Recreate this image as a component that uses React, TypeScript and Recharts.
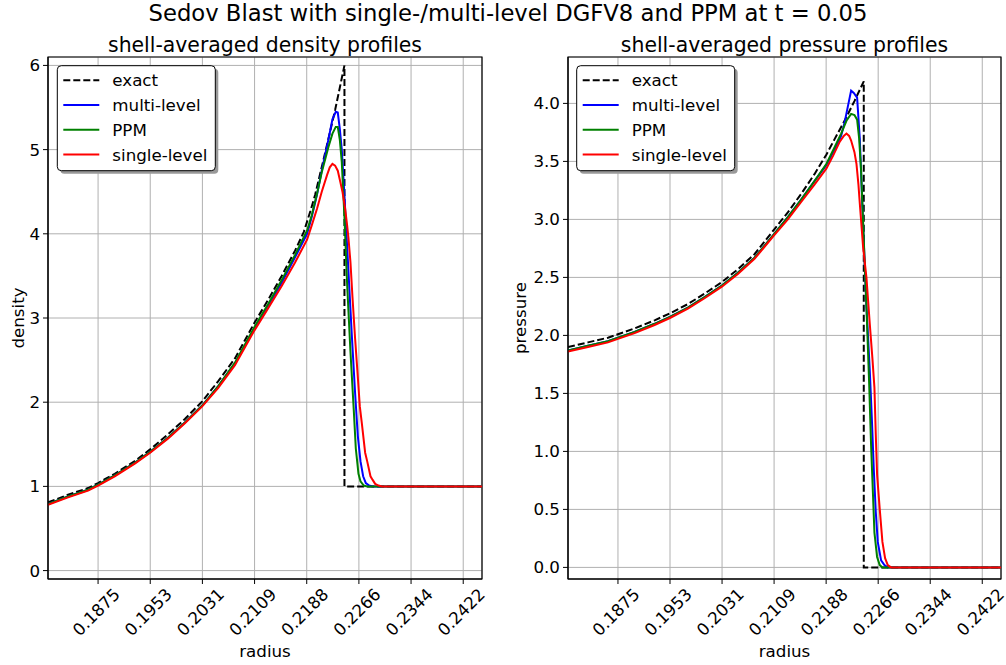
import React from 'react'
import { LineChart, Line, XAxis, YAxis, CartesianGrid, ReferenceArea } from 'recharts'

const FONT = '"DejaVu Sans", Verdana, sans-serif'

const radiusTicks = [0.1875, 0.1953125, 0.203125, 0.2109375, 0.21875, 0.2265625, 0.234375, 0.2421875]
const radiusTickLabels = ['0.1875', '0.1953', '0.2031', '0.2109', '0.2188', '0.2266', '0.2344', '0.2422']
const densityTicks = [0, 1, 2, 3, 4, 5, 6]
const pressureTicks = [0, 0.5, 1, 1.5, 2, 2.5, 3, 3.5, 4]

const seriesNames = ['exact', 'multi-level', 'PPM', 'single-level']
const seriesColors = ['#000000', '#0000ff', '#008000', '#ff0000']

// shared radii of the smooth part
const rBase = [0.18, 0.183, 0.186, 0.1875, 0.19, 0.193, 0.1953, 0.198, 0.2005, 0.2031, 0.2055, 0.208, 0.2109, 0.213, 0.215, 0.217]

// density
const rhoExactR = [...rBase, 0.2183, 0.2193, 0.22, 0.2215, 0.223, 0.2244, 0.2244, 0.245]
const rhoExact = [0.81, 0.9, 0.98, 1.04, 1.15, 1.3, 1.44, 1.62, 1.8, 2.01, 2.25, 2.52, 2.94, 3.22, 3.5, 3.8, 4.02, 4.27, 4.46, 4.96, 5.47, 6.0, 1.0, 1.0]
const rhoMultiR = [...rBase, 0.2188, 0.2195, 0.2203, 0.221, 0.222, 0.2226, 0.2231, 0.2234, 0.2237, 0.224, 0.2244, 0.2249, 0.2255, 0.226, 0.2264, 0.2268, 0.2272, 0.2276, 0.2281, 0.2286, 0.245]
const rhoMulti = [0.79, 0.88, 0.96, 1.02, 1.13, 1.28, 1.41, 1.58, 1.76, 1.96, 2.19, 2.46, 2.87, 3.15, 3.42, 3.72, 4.0, 4.2, 4.47, 4.75, 5.12, 5.36, 5.45, 5.44, 5.25, 5.0, 4.45, 3.7, 2.8, 2.1, 1.6, 1.3, 1.12, 1.04, 1.01, 1.0, 1.0]
const rhoPpmR = [...rBase, 0.2188, 0.2195, 0.2203, 0.221, 0.222, 0.2226, 0.2231, 0.2234, 0.2237, 0.224, 0.2244, 0.2248, 0.2253, 0.2258, 0.2261, 0.2265, 0.2268, 0.2273, 0.2278, 0.245]
const rhoPpm = [0.79, 0.88, 0.96, 1.02, 1.13, 1.28, 1.41, 1.58, 1.76, 1.96, 2.19, 2.47, 2.89, 3.17, 3.45, 3.75, 4.04, 4.22, 4.48, 4.73, 5.03, 5.19, 5.27, 5.27, 5.12, 4.85, 4.2, 3.4, 2.6, 1.9, 1.45, 1.15, 1.06, 1.01, 1.0, 1.0]
const rhoSingleR = [...rBase, 0.2188, 0.2195, 0.2203, 0.221, 0.2218, 0.2222, 0.2226, 0.223, 0.2234, 0.2238, 0.2241, 0.2245, 0.2248, 0.225, 0.2253, 0.2256, 0.226, 0.2264, 0.2267, 0.227, 0.2275, 0.2278, 0.2283, 0.2286, 0.229, 0.2295, 0.23, 0.245]
const rhoSingle = [0.78, 0.87, 0.95, 1.01, 1.12, 1.27, 1.4, 1.57, 1.75, 1.95, 2.17, 2.44, 2.85, 3.12, 3.38, 3.66, 3.93, 4.1, 4.3, 4.5, 4.7, 4.79, 4.83, 4.81, 4.75, 4.61, 4.5, 4.3, 4.1, 3.95, 3.66, 3.25, 2.75, 2.3, 1.95, 1.75, 1.4, 1.3, 1.12, 1.08, 1.03, 1.01, 1.0, 1.0]

// pressure
const pExactR = [...rBase, 0.2188, 0.22, 0.2216, 0.223, 0.2244, 0.2244, 0.245]
const pExact = [1.9, 1.94, 1.98, 2.01, 2.06, 2.13, 2.19, 2.27, 2.36, 2.46, 2.57, 2.7, 2.91, 3.06, 3.22, 3.39, 3.56, 3.69, 3.86, 4.02, 4.19, 0, 0]
const pMultiR = [...rBase, 0.2188, 0.22, 0.221, 0.2215, 0.222, 0.2225, 0.2229, 0.2234, 0.2238, 0.2243, 0.2248, 0.2253, 0.2256, 0.2259, 0.2262, 0.2265, 0.227, 0.2275, 0.228, 0.245]
const pMulti = [1.87, 1.91, 1.95, 1.98, 2.03, 2.1, 2.16, 2.24, 2.33, 2.43, 2.54, 2.67, 2.87, 3.02, 3.17, 3.33, 3.47, 3.6, 3.72, 3.83, 3.97, 4.11, 4.09, 4.05, 3.7, 2.95, 2.25, 1.7, 1.3, 0.85, 0.48, 0.22, 0.06, 0.02, 0, 0]
const pPpmR = [...rBase, 0.2188, 0.22, 0.221, 0.2218, 0.2225, 0.223, 0.2234, 0.2237, 0.224, 0.2243, 0.2248, 0.2252, 0.2255, 0.2258, 0.226, 0.2264, 0.2268, 0.2272, 0.245]
const pPpm = [1.87, 1.91, 1.95, 1.98, 2.03, 2.1, 2.16, 2.24, 2.33, 2.43, 2.54, 2.67, 2.87, 3.02, 3.17, 3.33, 3.48, 3.62, 3.74, 3.85, 3.91, 3.9, 3.86, 3.7, 3.42, 2.97, 2.25, 1.6, 1.05, 0.6, 0.3, 0.09, 0.02, 0, 0]
const pSingleR = [...rBase, 0.2188, 0.2198, 0.2208, 0.2214, 0.2218, 0.2222, 0.2225, 0.223, 0.2233, 0.2236, 0.2238, 0.2243, 0.2248, 0.2253, 0.2257, 0.226, 0.2262, 0.2264, 0.2268, 0.2272, 0.2276, 0.228, 0.2285, 0.245]
const pSingle = [1.86, 1.9, 1.94, 1.97, 2.02, 2.09, 2.15, 2.23, 2.32, 2.42, 2.53, 2.66, 2.86, 3.0, 3.15, 3.3, 3.44, 3.55, 3.67, 3.72, 3.74, 3.72, 3.68, 3.58, 3.48, 3.3, 3.14, 2.76, 2.5, 2.1, 1.8, 1.55, 1.15, 0.8, 0.5, 0.22, 0.08, 0.02, 0, 0]

const zip = (r: number[], v: number[]) => r.map((x, i) => ({ r: x, v: v[i] }))

const densitySeries = [zip(rhoExactR, rhoExact), zip(rhoMultiR, rhoMulti), zip(rhoPpmR, rhoPpm), zip(rhoSingleR, rhoSingle)]
const pressureSeries = [zip(pExactR, pExact), zip(pMultiR, pMulti), zip(pPpmR, pPpm), zip(pSingleR, pSingle)]

const X_DOMAIN: [number, number] = [0.18, 0.245]

function RadiusTick(props: any) {
  const { x, y, payload } = props
  const i = radiusTicks.indexOf(payload.value)
  return (
    <text
      transform={`translate(${x - 2},${y + 26}) rotate(-45)`}
      textAnchor="middle"
      dominantBaseline="central"
      fontSize={16.7}
      fontFamily={FONT}
      fill="#000"
    >
      {radiusTickLabels[i]}
    </text>
  )
}

interface PanelProps {
  left: number
  series: { r: number; v: number }[][]
  yDomain: [number, number]
  yTicks: number[]
  yFmt: (v: number) => string
  yWidth: number
  rightMargin: number
}

function Panel({ left, series, yDomain, yTicks, yFmt, yWidth, rightMargin }: PanelProps) {
  return (
    <div style={{ position: 'absolute', left, top: 0 }}>
      <LineChart width={500} height={665} margin={{ top: 57, right: rightMargin, bottom: 0, left: 0 }}>
        <CartesianGrid stroke="#b0b0b0" strokeWidth={1} />
        <XAxis
          dataKey="r"
          type="number"
          domain={X_DOMAIN}
          ticks={radiusTicks}
          interval={0}
          allowDataOverflow
          height={86}
          tickSize={5}
          tick={<RadiusTick />}
          axisLine={{ stroke: '#000' }}
          tickLine={{ stroke: '#000' }}
        />
        <YAxis
          type="number"
          domain={yDomain}
          ticks={yTicks}
          interval={0}
          allowDataOverflow
          width={yWidth}
          tickSize={5}
          tickMargin={3}
          tickFormatter={yFmt}
          tick={{ fontSize: 16.7, fill: '#000', fontFamily: FONT }}
          axisLine={{ stroke: '#000' }}
          tickLine={{ stroke: '#000' }}
        />
        {series.map((d, i) => (
          <Line
            key={seriesNames[i]}
            data={d}
            dataKey="v"
            name={seriesNames[i]}
            type="linear"
            stroke={seriesColors[i]}
            strokeWidth={2}
            strokeDasharray={i === 0 ? '7 3' : undefined}
            dot={false}
            activeDot={false}
            isAnimationActive={false}
          />
        ))}
        <ReferenceArea
          x1={X_DOMAIN[0]}
          x2={X_DOMAIN[1]}
          y1={yDomain[0]}
          y2={yDomain[1]}
          fill="none"
          stroke="#000"
          strokeWidth={1.2}
          ifOverflow="visible"
        />
      </LineChart>
    </div>
  )
}

function LegendBox({ x, y }: { x: number; y: number }) {
  const w = 158
  const h = 105
  return (
    <g>
      <rect x={x + 3} y={y + 3} width={w} height={h} rx={4} fill="#999" />
      <rect x={x} y={y} width={w} height={h} rx={4} fill="#fff" stroke="#000" strokeWidth={1} />
      {seriesNames.map((n, i) => {
        const cy = y + 14.5 + i * 24.8
        return (
          <g key={n}>
            <line
              x1={x + 6}
              x2={x + 42}
              y1={cy}
              y2={cy}
              stroke={seriesColors[i]}
              strokeWidth={2}
              strokeDasharray={i === 0 ? '7 3' : undefined}
            />
            <text x={x + 55} y={cy} dominantBaseline="central" fontSize={16.7} fontFamily={FONT} fill="#000">
              {n}
            </text>
          </g>
        )
      })}
    </g>
  )
}

export default function App() {
  return (
    <div style={{ position: 'absolute', left: 0, top: 0, width: 1006, height: 665, background: '#fff', fontFamily: FONT }}>
      <Panel
        left={0}
        series={densitySeries}
        yDomain={[-0.1, 6.1]}
        yTicks={densityTicks}
        yFmt={(v) => String(v)}
        yWidth={48}
        rightMargin={18}
      />
      <Panel
        left={506}
        series={pressureSeries}
        yDomain={[-0.1, 4.4]}
        yTicks={pressureTicks}
        yFmt={(v) => v.toFixed(1)}
        yWidth={62}
        rightMargin={5}
      />
      <svg width={1006} height={665} style={{ position: 'absolute', left: 0, top: 0, pointerEvents: 'none' }}>
        <text x={508} y={21} textAnchor="middle" fontSize={22.7} fontFamily={FONT} fill="#000">
          Sedov Blast with single-/multi-level DGFV8 and PPM at t = 0.05
        </text>
        <text x={265} y={51.5} textAnchor="middle" fontSize={20.4} fontFamily={FONT} fill="#000">
          shell-averaged density profiles
        </text>
        <text x={784.5} y={51.5} textAnchor="middle" fontSize={20.4} fontFamily={FONT} fill="#000">
          shell-averaged pressure profiles
        </text>
        <text x={265} y={656.5} textAnchor="middle" fontSize={16.7} fontFamily={FONT} fill="#000">
          radius
        </text>
        <text x={784.5} y={656.5} textAnchor="middle" fontSize={16.7} fontFamily={FONT} fill="#000">
          radius
        </text>
        <text transform="translate(24,318) rotate(-90)" textAnchor="middle" fontSize={16.7} fontFamily={FONT} fill="#000">
          density
        </text>
        <text transform="translate(526,318) rotate(-90)" textAnchor="middle" fontSize={16.7} fontFamily={FONT} fill="#000">
          pressure
        </text>
        <LegendBox x={57.3} y={65.7} />
        <LegendBox x={576.7} y={65.7} />
      </svg>
    </div>
  )
}
